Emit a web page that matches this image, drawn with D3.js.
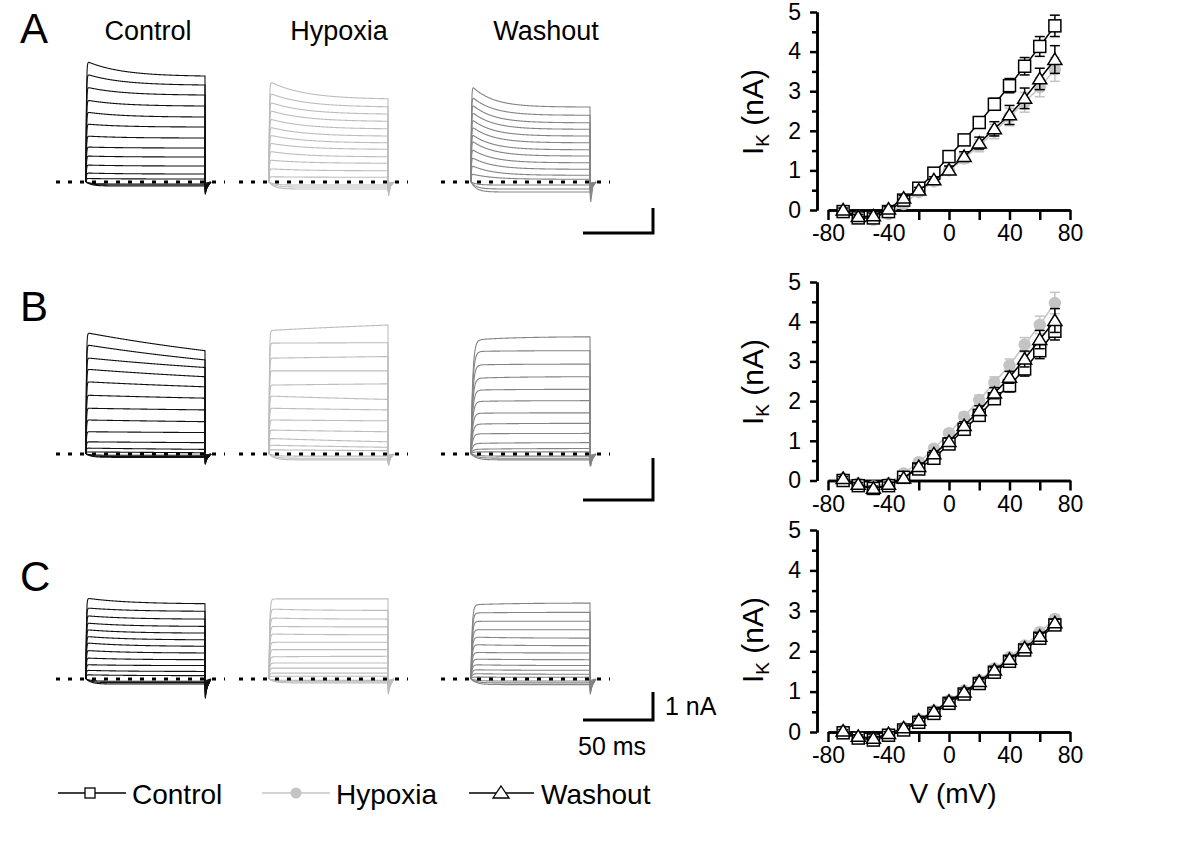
<!DOCTYPE html>
<html><head><meta charset="utf-8">
<script src="https://cdn.jsdelivr.net/npm/d3@7"></script>
<style>body{margin:0;background:#fff}</style>
</head><body><svg id="c" width="1200" height="848"></svg>
<script>
// ---------------- DATA ----------------
const voltages = [-70,-60,-50,-40,-30,-20,-10,0,10,20,30,40,50,60,70];
const ivA_control = [-0.04,-0.2,-0.2,-0.04,0.25,0.55,0.93,1.35,1.77,2.21,2.67,3.14,3.63,4.13,4.65];
const ivA_hypoxia = [-0.05,-0.17,-0.25,-0.1,0.15,0.45,0.72,1.0,1.3,1.62,1.98,2.35,2.72,3.1,3.55];
const ivA_washout = [0.0,-0.17,-0.15,0.02,0.3,0.5,0.76,1.01,1.35,1.69,2.05,2.4,2.82,3.31,3.8];
const ivA_controlErr = [0.05,0.06,0.06,0.06,0.06,0.07,0.08,0.09,0.1,0.12,0.15,0.18,0.22,0.25,0.27];
const ivA_hypoxiaErr = [0.05,0.06,0.07,0.07,0.07,0.07,0.08,0.1,0.12,0.15,0.18,0.22,0.25,0.24,0.3];
const ivA_washoutErr = [0.05,0.06,0.06,0.06,0.07,0.07,0.08,0.1,0.12,0.15,0.18,0.24,0.26,0.27,0.35];

const ivB_control = [0.0,-0.13,-0.2,-0.13,0.08,0.29,0.56,0.92,1.29,1.64,2.06,2.39,2.81,3.27,3.76];
const ivB_hypoxia = [0.05,-0.07,-0.15,-0.07,0.18,0.46,0.8,1.19,1.61,2.03,2.47,2.9,3.42,3.92,4.47];
const ivB_washout = [0.05,-0.1,-0.2,-0.1,0.06,0.35,0.67,0.98,1.38,1.76,2.2,2.6,3.06,3.55,4.03];
const ivB_controlErr = [0.05,0.05,0.06,0.06,0.06,0.07,0.08,0.09,0.1,0.12,0.14,0.16,0.18,0.2,0.22];
const ivB_hypoxiaErr = [0.05,0.05,0.06,0.06,0.06,0.07,0.08,0.09,0.1,0.12,0.14,0.16,0.18,0.22,0.27];
const ivB_washoutErr = [0.05,0.05,0.06,0.06,0.06,0.07,0.08,0.09,0.1,0.12,0.14,0.15,0.2,0.23,0.3];

const ivC_control = [-0.02,-0.15,-0.2,-0.08,0.05,0.24,0.46,0.71,0.94,1.2,1.48,1.75,2.03,2.32,2.65];
const ivC_hypoxia = [0.03,-0.12,-0.17,-0.05,0.11,0.31,0.53,0.78,1.02,1.28,1.57,1.85,2.14,2.47,2.8];
const ivC_washout = [0.02,-0.11,-0.16,-0.04,0.1,0.29,0.51,0.76,0.99,1.25,1.53,1.8,2.08,2.37,2.7];
const ivC_controlErr = [0.04,0.04,0.05,0.05,0.05,0.05,0.05,0.06,0.06,0.06,0.07,0.07,0.08,0.08,0.09];
const ivC_hypoxiaErr = [0.04,0.04,0.05,0.05,0.05,0.05,0.05,0.06,0.06,0.06,0.07,0.07,0.08,0.08,0.09];
const ivC_washoutErr = [0.04,0.04,0.05,0.05,0.05,0.05,0.05,0.06,0.06,0.06,0.07,0.07,0.08,0.08,0.09];

const xTicksMajor = [-80,-40,0,40,80];
const xTicksMinor = [-60,-20,20,60];
const yTicksMajor = [0,1,2,3,4,5];
const yTicksMinor = [0.5,1.5,2.5,3.5,4.5];

const panelLabels = ['A','B','C'];
const conditionNames = ['Control','Hypoxia','Washout'];

// Example current traces (nA): value just after the step onset and at the end of the step
const trA_control_start = [4.84,4.32,3.80,3.28,2.80,2.32,1.84,1.40,1.04,0.68,0.36,0.14];
const trA_control_end   = [4.24,3.88,3.48,3.04,2.60,2.20,1.76,1.36,1.00,0.64,0.32,0.12];
const trA_control_neg   = [-0.08,-0.12,-0.16];
const trA_hypoxia_start = [4.03,3.56,3.20,2.87,2.53,2.20,1.88,1.56,1.23,0.88,0.53,0.21];
const trA_hypoxia_end   = [3.33,3.01,2.72,2.43,2.13,1.84,1.57,1.31,1.01,0.75,0.45,0.19];
const trA_hypoxia_neg   = [-0.12,-0.2,-0.28];
const trA_washout_start = [3.87,3.44,3.13,2.83,2.53,2.24,1.93,1.67,1.33,1.00,0.67,0.33];
const trA_washout_end   = [3.00,2.67,2.37,2.11,1.84,1.57,1.29,1.04,0.77,0.51,0.27,0.11];
const trA_washout_neg   = [-0.12,-0.28,-0.4];

const trB_control_start = [2.89,2.60,2.29,2.02,1.72,1.40,1.09,0.81,0.53,0.29,0.14,0.05];
const trB_control_end   = [2.46,2.24,2.06,1.84,1.60,1.33,1.05,0.77,0.51,0.27,0.11,0.03];
const trB_control_neg   = [-0.03,-0.06,-0.08];
const trB_hypoxia_start = [2.94,2.64,2.28,1.98,1.64,1.38,1.09,0.81,0.57,0.37,0.21,0.10];
const trB_hypoxia_end   = [3.07,2.65,2.32,1.98,1.67,1.30,1.05,0.79,0.53,0.29,0.16,0.08];
const trB_hypoxia_neg   = [-0.05,-0.1,-0.14];
const trB_washout_start = [2.71,2.44,2.12,1.80,1.52,1.25,0.97,0.71,0.48,0.25,0.11,0.05];
const trB_washout_end   = [2.79,2.46,2.14,1.84,1.54,1.27,0.98,0.73,0.49,0.27,0.13,0.05];
const trB_washout_neg   = [-0.05,-0.1,-0.14];

const trC_control_start = [2.89,2.54,2.26,2.00,1.76,1.52,1.29,1.02,0.75,0.51,0.31,0.15];
const trC_control_end   = [2.69,2.42,2.14,1.88,1.64,1.40,1.17,0.93,0.69,0.48,0.27,0.12];
const trC_control_neg   = [-0.08,-0.13,-0.18];
const trC_hypoxia_start = [2.86,2.50,2.18,1.88,1.61,1.31,1.05,0.79,0.57,0.39,0.21,0.10];
const trC_hypoxia_end   = [2.86,2.45,2.14,1.86,1.58,1.31,1.05,0.81,0.57,0.39,0.21,0.10];
const trC_hypoxia_neg   = [-0.05,-0.1,-0.14];
const trC_washout_start = [2.65,2.36,2.06,1.76,1.50,1.23,0.95,0.71,0.51,0.33,0.19,0.07];
const trC_washout_end   = [2.71,2.38,2.06,1.76,1.46,1.19,0.93,0.69,0.48,0.31,0.17,0.06];
const trC_washout_neg   = [-0.07,-0.14,-0.2];

// decay time constants (ms), onset time constants (ms) and peak tail currents (nA), per panel
const trA_tau = [25,25,15], trB_tau = [200,200,30], trC_tau = [30,30,30];
const trA_rise = [0.3,0.3,0.3], trB_rise = [0.3,0.3,1.2], trC_rise = [0.3,0.5,0.8];
const trA_tail = [-0.5,-0.4,-0.4], trB_tail = [-0.25,-0.25,-0.3], trC_tail = [-0.7,-0.55,-0.55];
const stepMs = 85;

// ---------------- LAYOUT / STYLE ----------------
const FONT = "'Liberation Sans', Arial, Helvetica, sans-serif";
const TRACE_COL = ['#111111','#bdbdbd','#848484'];
const svg = d3.select('#c');
svg.append('rect').attr('width',1200).attr('height',848).attr('fill','#fff');

const traceColX = [86, 269, 471];
const rowsTrace = [
  {baseline:182, pxPerNA:25, letterBase:43, barY:233,
   data:[[trA_control_start,trA_control_end,trA_control_neg],[trA_hypoxia_start,trA_hypoxia_end,trA_hypoxia_neg],[trA_washout_start,trA_washout_end,trA_washout_neg]],
   tau:trA_tau, rise:trA_rise, tail:trA_tail},
  {baseline:454, pxPerNA:42, letterBase:321, barY:500,
   data:[[trB_control_start,trB_control_end,trB_control_neg],[trB_hypoxia_start,trB_hypoxia_end,trB_hypoxia_neg],[trB_washout_start,trB_washout_end,trB_washout_neg]],
   tau:trB_tau, rise:trB_rise, tail:trB_tail},
  {baseline:679, pxPerNA:28, letterBase:591, barY:720,
   data:[[trC_control_start,trC_control_end,trC_control_neg],[trC_hypoxia_start,trC_hypoxia_end,trC_hypoxia_neg],[trC_washout_start,trC_washout_end,trC_washout_neg]],
   tau:trC_tau, rise:trC_rise, tail:trC_tail}
];

const tScale = d3.scaleLinear().domain([0,50]).range([0,70]); // 50 ms = 70 px
const T = stepMs;
const tSamples = d3.range(0, T + 0.001, 0.25);
const fmt = d => String(d);

// panel letters
rowsTrace.forEach((r,i)=>{
  svg.append('text').attr('x',20).attr('y',r.letterBase).text(panelLabels[i])
    .attr('font-family',FONT).attr('font-size',42).attr('fill','#000');
});
// column titles
const titleX = [148, 339, 546];
conditionNames.forEach((n,i)=>{
  svg.append('text').attr('x',titleX[i]).attr('y',40).attr('text-anchor','middle').text(n)
    .attr('font-family',FONT).attr('font-size',27).attr('fill','#000');
});

rowsTrace.forEach((r,ri)=>{
  const y = d3.scaleLinear().domain([0,1]).range([r.baseline, r.baseline - r.pxPerNA]);
  r.data.forEach((cond,ci)=>{
    const x0 = traceColX[ci];
    const x = d => x0 + tScale(d);
    const g = svg.append('g');
    const [starts, ends, negs] = cond;
    const tau = r.tau[ci], rise = r.rise[ci], tailMax = r.tail[ci];
    const line = d3.line().x(d=>x(d[0])).y(d=>y(d[1]));
    // negative (hyperpolarising) sweeps
    negs.forEach((v,k)=>{
      const pts = tSamples.map(t=>[t, v*(1-Math.exp(-t/4))]);
      pts.push([T+0.5, v*2],[T+2, v*0.5],[T+4, 0]);
      g.append('path').attr('d',line(pts)).attr('fill','none')
        .attr('stroke',TRACE_COL[ci]).attr('stroke-width',1.1);
    });
    const n = starts.length;
    starts.forEach((s,k)=>{
      const e = ends[k];
      const norm = 1 - Math.exp(-T/tau);
      const pts = tSamples.map(t=>{
        const shape = (Math.exp(-t/tau) - Math.exp(-T/tau))/norm;
        const on = 1 - Math.exp(-t/rise);
        return [t, on*(e + (s-e)*shape)];
      });
      const tl = tailMax*(n-k)/n;
      pts.push([T+0.2, tl],[T+1.2+k*0.25, tl*0.45],[T+3.5, tl*0.1]);
      g.append('path').attr('d',line(pts)).attr('fill','none')
        .attr('stroke',TRACE_COL[ci]).attr('stroke-width',1.1);
    });
    // dotted zero line
    svg.append('line').attr('x1',x0-30).attr('x2',x(T)+20).attr('y1',r.baseline).attr('y2',r.baseline)
      .attr('stroke','#000').attr('stroke-width',3).attr('stroke-dasharray','4,8');
  });
  // scale bar: 50 ms x 1 nA
  const bx = 653;
  const sb = d3.path();
  sb.moveTo(bx - tScale(50), r.barY); sb.lineTo(bx, r.barY); sb.lineTo(bx, r.barY - r.pxPerNA);
  svg.append('path').attr('d',sb.toString()).attr('fill','none').attr('stroke','#000').attr('stroke-width',3);
  if (ri === 2) {
    svg.append('text').attr('x',665).attr('y',715).text('1 nA').attr('font-family',FONT).attr('font-size',25);
    svg.append('text').attr('x',578).attr('y',755).text('50 ms').attr('font-family',FONT).attr('font-size',25);
  }
});

// ---------------- I-V PLOTS ----------------
const xIV = d3.scaleLinear().domain([-80,80]).range([828,1070]);
const ivRows = [
  {zero:210, top:12, labelY:112, series:[[ivA_hypoxia,ivA_hypoxiaErr],[ivA_control,ivA_controlErr],[ivA_washout,ivA_washoutErr]]},
  {zero:480.5, top:282, labelY:382, series:[[ivB_hypoxia,ivB_hypoxiaErr],[ivB_control,ivB_controlErr],[ivB_washout,ivB_washoutErr]]},
  {zero:732, top:530, labelY:640, series:[[ivC_hypoxia,ivC_hypoxiaErr],[ivC_control,ivC_controlErr],[ivC_washout,ivC_washoutErr]]}
];
const seriesKinds = ['hypoxia','control','washout'];
const yAxisX = 817;

function drawMarker(g, kind, cx, cy){
  if (kind==='control') {
    const s = 12;
    g.append('rect').attr('x',cx-s/2).attr('y',cy-s/2).attr('width',s).attr('height',s)
      .attr('fill','#fff').attr('stroke','#000').attr('stroke-width',1.5);
  } else if (kind==='hypoxia') {
    g.append('circle').attr('cx',cx).attr('cy',cy).attr('r',6.2).attr('fill','#c4c4c4');
  } else {
    const w = 7, h = 6.5;
    g.append('path').attr('d',`M${cx},${cy-h}L${cx+w},${cy+h*0.75}L${cx-w},${cy+h*0.75}Z`)
      .attr('fill','#fff').attr('stroke','#000').attr('stroke-width',1.5);
  }
}

ivRows.forEach((r,ri)=>{
  const y = d3.scaleLinear().domain([0,5]).range([r.zero, r.top]);
  const g = svg.append('g');
  const ya = g.append('g').attr('transform',`translate(${yAxisX},0)`)
    .call(d3.axisLeft(y).tickValues(yTicksMajor).tickSize(7).tickSizeOuter(0).tickPadding(9).tickFormat(fmt));
  const yam = g.append('g').attr('transform',`translate(${yAxisX},0)`)
    .call(d3.axisLeft(y).tickValues(yTicksMinor).tickSize(5).tickSizeOuter(0).tickFormat(''));
  const xa = g.append('g').attr('transform',`translate(0,${r.zero})`)
    .call(d3.axisBottom(xIV).tickValues(xTicksMajor).tickSize(10).tickSizeOuter(0).tickPadding(5).tickFormat(fmt));
  const xam = g.append('g').attr('transform',`translate(0,${r.zero})`)
    .call(d3.axisBottom(xIV).tickValues(xTicksMinor).tickSize(10).tickSizeOuter(0).tickFormat(''));
  [ya,yam,xa,xam].forEach(a=>{
    a.selectAll('path,line').attr('stroke','#000').attr('stroke-width',2.5);
    a.selectAll('text').attr('font-family',FONT).attr('font-size',23).attr('fill','#000');
  });
  const yl = g.append('text').attr('transform',`translate(763,${r.labelY}) rotate(-90)`)
    .attr('text-anchor','middle').attr('font-family',FONT).attr('font-size',30).attr('fill','#000');
  yl.append('tspan').text('I');
  yl.append('tspan').text('K').attr('font-size',19).attr('dy',6);
  yl.append('tspan').text(' (nA)').attr('dy',-6);

  r.series.forEach((sd,si)=>{
    const kind = seriesKinds[si];
    const [vals, errs] = sd;
    const col = kind==='hypoxia' ? '#c4c4c4' : '#000';
    const pts = voltages.map((v,i)=>({v, i:vals[i], e:errs[i]}));
    const sg = g.append('g');
    pts.forEach(p=>{
      const cx = xIV(p.v);
      sg.append('line').attr('x1',cx).attr('x2',cx).attr('y1',y(p.i-p.e)).attr('y2',y(p.i+p.e))
        .attr('stroke',col).attr('stroke-width',1.5);
      [p.i-p.e, p.i+p.e].forEach(yy=>{
        sg.append('line').attr('x1',cx-5).attr('x2',cx+5).attr('y1',y(yy)).attr('y2',y(yy))
          .attr('stroke',col).attr('stroke-width',1.5);
      });
    });
    sg.append('path').attr('d', d3.line().x(p=>xIV(p.v)).y(p=>y(p.i))(pts))
      .attr('fill','none').attr('stroke',col).attr('stroke-width',1.5);
    pts.forEach(p=> drawMarker(sg, kind, xIV(p.v), y(p.i)));
  });
  if (ri===2) {
    g.append('text').attr('x',953).attr('y',803).attr('text-anchor','middle').text('V (mV)')
      .attr('font-family',FONT).attr('font-size',28).attr('fill','#000');
  }
});

// ---------------- LEGEND ----------------
const legendY = 793;
const legendItems = [
  {kind:'control', label:'Control', x1:58, mx:90, x2:126, tx:132},
  {kind:'hypoxia', label:'Hypoxia', x1:262, mx:296, x2:330, tx:336},
  {kind:'washout', label:'Washout', x1:469, mx:501, x2:534, tx:541}
];
legendItems.forEach(it=>{
  const col = it.kind==='hypoxia' ? '#c4c4c4' : '#000';
  const lg = svg.append('g');
  lg.append('line').attr('x1',it.x1).attr('x2',it.x2).attr('y1',legendY).attr('y2',legendY)
    .attr('stroke',col).attr('stroke-width',1.5);
  if (it.kind==='control') {
    lg.append('rect').attr('x',it.mx-5).attr('y',legendY-5).attr('width',10).attr('height',10)
      .attr('fill','#fff').attr('stroke','#000').attr('stroke-width',1.3);
  } else if (it.kind==='hypoxia') {
    lg.append('circle').attr('cx',it.mx).attr('cy',legendY).attr('r',5.5).attr('fill','#c4c4c4');
  } else {
    lg.append('path').attr('d',`M${it.mx},${legendY-7}L${it.mx+8},${legendY+5}L${it.mx-8},${legendY+5}Z`)
      .attr('fill','#fff').attr('stroke','#000').attr('stroke-width',1.3);
  }
  lg.append('text').attr('x',it.tx).attr('y',legendY+11).text(it.label)
    .attr('font-family',FONT).attr('font-size',28).attr('fill','#000');
});
</script></body></html>
